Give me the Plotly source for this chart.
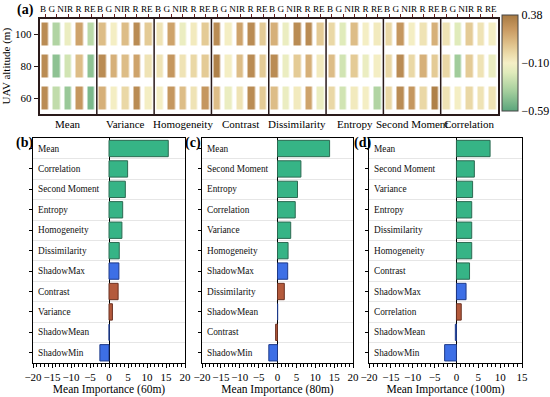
import plotly.graph_objects as go

# ---------------- data ----------------
bands = ["B", "G", "NIR", "R", "RE"]
groups = ["Mean", "Variance", "Homogeneity", "Contrast", "Dissimilarity",
          "Entropy", "Second Moment", "Correlation"]
altitudes = [60, 80, 100]

z_100 = [0.30, -0.35, -0.15, 0.20, -0.32,
         0.10, -0.10, 0.10, 0.30, 0.05,
         -0.05, 0.20, -0.15, -0.08, 0.05,
         0.30, -0.10, 0.20, 0.30, 0.05,
         0.15, -0.15, 0.30, 0.30, 0.05,
         0.00, -0.20, 0.10, -0.10, -0.08,
         0.00, 0.25, -0.10, -0.05, 0.15,
         -0.05, -0.20, 0.05, -0.05, -0.10]
z_80 = [0.30, -0.45, -0.25, 0.10, -0.45,
        0.30, 0.15, 0.10, 0.20, -0.05,
        -0.05, 0.25, -0.05, 0.00, 0.05,
        0.35, -0.10, 0.10, 0.30, 0.05,
        0.30, -0.15, 0.05, 0.15, -0.08,
        0.10, -0.25, 0.05, -0.15, -0.10,
        0.00, 0.30, 0.00, 0.15, 0.05,
        0.00, -0.40, 0.05, -0.05, -0.15]
z_60 = [0.30, -0.30, -0.42, 0.25, -0.50,
        0.15, -0.10, 0.00, 0.30, -0.10,
        -0.10, 0.25, 0.10, -0.05, 0.25,
        0.10, -0.15, -0.05, 0.30, 0.05,
        0.10, -0.15, -0.08, 0.20, -0.15,
        0.00, -0.25, -0.08, -0.10, -0.35,
        0.00, 0.30, 0.25, 0.00, 0.35,
        -0.05, -0.10, 0.00, -0.05, -0.05]
z_min, z_max = -0.59, 0.38
cbar_ticks = [-0.59, -0.105, 0.38]
cbar_text = ["−0.59", "−0.10", "0.38"]

names_60 = ["Mean", "Correlation", "Second Moment", "Entropy", "Homogeneity",
            "Dissimilarity", "ShadowMax", "Contrast", "Variance", "ShadowMean", "ShadowMin"]
imp_60 = [15.6, 4.9, 4.3, 3.6, 3.4, 2.7, 2.6, 2.4, 0.9, 0.05, -2.4]
status_60 = ["C", "C", "C", "C", "C", "C", "S", "R", "R", "S", "S"]

names_80 = ["Mean", "Second Moment", "Entropy", "Correlation", "Variance",
            "Homogeneity", "ShadowMax", "Dissimilarity", "ShadowMean", "Contrast", "ShadowMin"]
imp_80 = [13.8, 6.2, 5.3, 4.7, 3.5, 2.8, 2.7, 1.8, 0.05, -0.5, -2.3]
status_80 = ["C", "C", "C", "C", "C", "C", "S", "R", "S", "R", "S"]

names_100 = ["Mean", "Second Moment", "Variance", "Entropy", "Dissimilarity",
             "Homogeneity", "Contrast", "ShadowMax", "Correlation", "ShadowMean", "ShadowMin"]
imp_100 = [7.7, 4.1, 3.7, 3.5, 3.5, 3.5, 3.0, 2.2, 1.1, -0.25, -2.7]
status_100 = ["C", "C", "C", "C", "C", "C", "C", "S", "R", "S", "S"]

# ---------------- styles ----------------
FONT = "Liberation Serif"
W, H = 550, 397
status_color = {"C": "#36b486", "R": "#b45a3c", "S": "#3d6fe6"}
status_line = {"C": "#2c6a52", "R": "#6a3020", "S": "#1e3a8a"}
colorscale = [[0.0, "#5aa57c"], [0.2, "#a2cd9c"], [0.4, "#e0ebbb"], [0.5, "#f5efc6"],
              [0.6, "#ebdaa8"], [0.72, "#dcbb84"], [0.85, "#c99a62"], [1.0, "#a87a42"]]


def px_x(p):
    return p / W


def px_y(p):
    return 1 - p / H


fig = go.Figure()

# heatmap (a)
n_cols = len(bands) * len(groups)
col_idx = list(range(n_cols))
fig.add_trace(go.Heatmap(
    z=[z_60, z_80, z_100], x=col_idx, y=altitudes,
    zmin=z_min, zmax=z_max, colorscale=colorscale,
    xgap=4.5, ygap=9, xaxis="x", yaxis="y",
    colorbar=dict(x=px_x(502), xanchor="left", xpad=0, ypad=0,
                  y=px_y(63), yanchor="middle",
                  lenmode="pixels", len=96, thickness=16,
                  tickvals=cbar_ticks, ticktext=cbar_text, ticks="",
                  outlinewidth=1, outlinecolor="#444",
                  tickfont=dict(family=FONT, size=12, color="black")),
))

panels = [(names_60, imp_60, status_60, "2", [33, 185], [-20, 20], "Mean Importance (60m)"),
          (names_80, imp_80, status_80, "3", [202, 353], [-20, 20], "Mean Importance (80m)"),
          (names_100, imp_100, status_100, "4", [369, 522], [-20, 15], "Mean Importance (100m)")]

annotations = []
for names, vals, stats, k, xd, xr, title in panels:
    pos = list(range(len(names)))
    fig.add_trace(go.Bar(
        x=vals, y=pos, orientation="h", width=0.8,
        marker=dict(color=[status_color[s] for s in stats],
                    line=dict(color=[status_line[s] for s in stats], width=1)),
        xaxis="x" + k, yaxis="y" + k, showlegend=False,
    ))
    for p, nm in zip(pos, names):
        annotations.append(dict(text=nm, xref="x" + k + " domain", yref="y" + k,
                                x=0, y=p, xanchor="left", yanchor="middle", xshift=3,
                                showarrow=False, font=dict(family=FONT, size=9.3, color="#111")))
    fig.update_layout(**{
        "xaxis" + k: dict(domain=[px_x(xd[0]), px_x(xd[1])], anchor="y" + k, range=xr,
                          tickmode="linear", tick0=-20, dtick=5, tickangle=0,
                          ticks="outside", ticklen=4, tickcolor="black",
                          minor=dict(dtick=1, ticks="outside", ticklen=3, tickcolor="black"),
                          showline=True, mirror=True, linecolor="black", linewidth=1,
                          showgrid=False, zeroline=True, zerolinecolor="black", zerolinewidth=1.3,
                          automargin=False,
                          tickfont=dict(family=FONT, size=11, color="black"),
                          title=dict(text=title, standoff=0,
                                     font=dict(family=FONT, size=11.5, color="black"))),
        "yaxis" + k: dict(domain=[px_y(363), px_y(138.3)], anchor="x" + k,
                          range=[len(names) - 0.5, -0.5],
                          tickvals=pos, showticklabels=False,
                          ticks="outside", ticklen=3, tickcolor="black",
                          showgrid=False, zeroline=False, automargin=False,
                          minor=dict(tickmode="array", tickvals=[i + 0.5 for i in pos[:-1]],
                                     showgrid=True, gridcolor="#e6e6e6", gridwidth=1, ticks=""),
                          showline=True, mirror=True, linecolor="black", linewidth=1),
    })

shapes = []
for g in range(1, len(groups)):
    xb = g * len(bands) - 0.5
    shapes.append(dict(type="line", xref="x", yref="y domain", x0=xb, x1=xb, y0=0, y1=1,
                       line=dict(color="#2a1a1a", width=1.5)))

band_text = " ".join(bands)
for g, name in enumerate(groups):
    gc = g * len(bands) + (len(bands) - 1) / 2
    annotations.append(dict(text=name, xref="x", yref="paper", x=gc, y=px_y(124),
                            yanchor="middle", xanchor="center",
                            showarrow=False, font=dict(family=FONT, size=11, color="black")))
    annotations.append(dict(text=band_text, xref="x", yref="paper", x=gc, y=px_y(9),
                            yanchor="middle", xanchor="center",
                            showarrow=False, font=dict(family=FONT, size=9.2, color="black")))
for lab, xx, yy in [("(a)", 25, 10), ("(b)", 24, 143), ("(c)", 193, 143), ("(d)", 362, 143)]:
    annotations.append(dict(text="<b>" + lab + "</b>", xref="paper", yref="paper",
                            x=px_x(xx), y=px_y(yy), xanchor="center", yanchor="middle",
                            showarrow=False,
                            font=dict(family=FONT, size=14, color="black")))

fig.update_layout(
    width=W, height=H, margin=dict(l=0, r=0, t=0, b=0),
    paper_bgcolor="white", plot_bgcolor="white", showlegend=False,
    font=dict(family=FONT, color="black"),
    xaxis=dict(domain=[px_x(39.5), px_x(498)], anchor="y", side="top", range=[-0.5, n_cols - 0.5],
               tickvals=col_idx, showticklabels=False,
               ticks="outside", ticklen=3,
               tickcolor="#6a2020", showgrid=False, zeroline=False, automargin=False,
               showline=True, mirror=True, linecolor="#2a1a1a", linewidth=1.5),
    yaxis=dict(domain=[px_y(114), px_y(18.5)], anchor="x", range=[50, 110],
               tickvals=altitudes, ticks="outside", ticklen=4, tickcolor="#2a1a1a",
               showgrid=False, zeroline=False, automargin=False,
               showline=True, mirror=True, linecolor="#2a1a1a", linewidth=1.5,
               tickfont=dict(family=FONT, size=11, color="black"),
               title=dict(text="UAV altitude (m)", standoff=4,
                          font=dict(family=FONT, size=11, color="black"))),
    shapes=shapes, annotations=annotations,
)

fig.write_html("out.html", post_script="document.body.style.margin='0px';",
               config={"displayModeBar": False})
